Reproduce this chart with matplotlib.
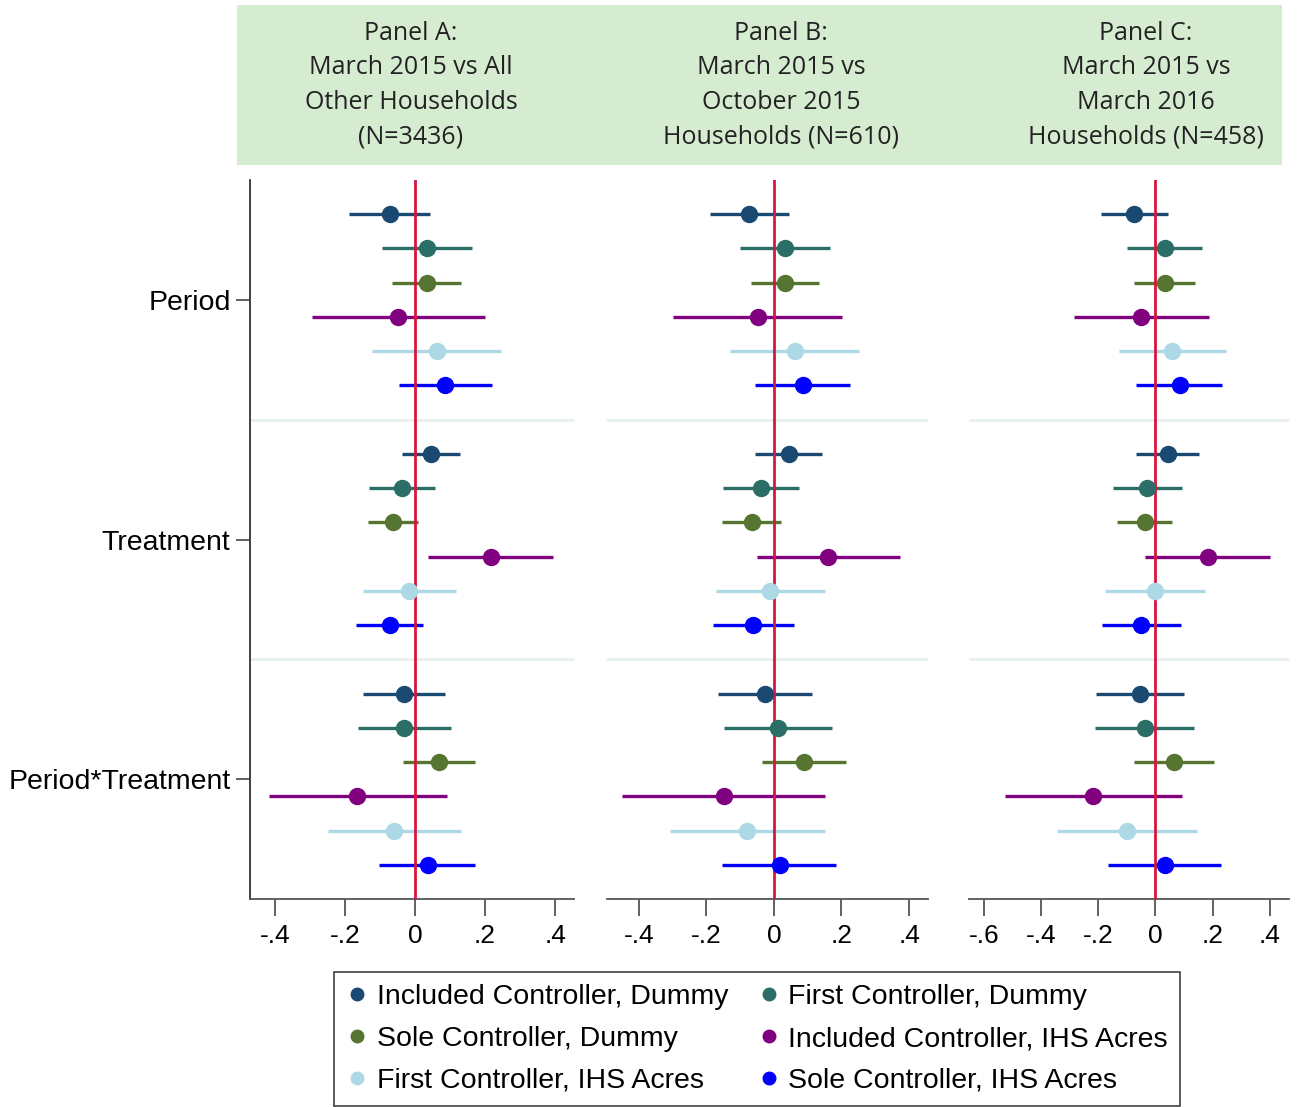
import numpy as np
import matplotlib
matplotlib.use("Agg")
import matplotlib.pyplot as plt
from matplotlib.lines import Line2D
from matplotlib.patches import Rectangle

plt.rcParams['font.family'] = ['Liberation Sans', 'DejaVu Sans']

# ---- data ----
terms = ["Period", "Treatment", "Period*Treatment"]
series = ["Included Controller, Dummy", "First Controller, Dummy",
          "Sole Controller, Dummy", "Included Controller, IHS Acres",
          "First Controller, IHS Acres", "Sole Controller, IHS Acres"]
colors = ["#1a4a72", "#2b6e67", "#557530", "#800080", "#add8e6", "#0000ff"]

headers = [["Panel A:", "March 2015 vs All", "Other Households", "(N=3436)"],
           ["Panel B:", "March 2015 vs", "October 2015", "Households (N=610)"],
           ["Panel C:", "March 2015 vs", "March 2016", "Households (N=458)"]]

# rows = series, cols = terms (Period, Treatment, Period*Treatment)
est_a = [[-0.071, 0.046, -0.031], [0.033, -0.036, -0.030], [0.033, -0.064, 0.069],
         [-0.048, 0.216, -0.165], [0.062, -0.017, -0.060], [0.087, -0.071, 0.036]]
lo_a = [[-0.187, -0.038, -0.149], [-0.095, -0.130, -0.164], [-0.065, -0.135, -0.033],
        [-0.295, 0.038, -0.416], [-0.124, -0.149, -0.249], [-0.046, -0.168, -0.102]]
hi_a = [[0.043, 0.128, 0.087], [0.163, 0.057, 0.102], [0.131, 0.008, 0.171],
        [0.200, 0.395, 0.090], [0.247, 0.117, 0.130], [0.219, 0.024, 0.171]]

est_b = [[-0.073, 0.044, -0.025], [0.034, -0.039, 0.013], [0.034, -0.066, 0.090],
         [-0.047, 0.161, -0.148], [0.061, -0.012, -0.079], [0.086, -0.061, 0.018]]
lo_b = [[-0.189, -0.056, -0.165], [-0.100, -0.152, -0.148], [-0.069, -0.153, -0.034],
        [-0.298, -0.051, -0.450], [-0.130, -0.172, -0.309], [-0.056, -0.179, -0.153]]
hi_b = [[0.044, 0.143, 0.114], [0.165, 0.074, 0.172], [0.134, 0.021, 0.212],
        [0.201, 0.372, 0.152], [0.251, 0.152, 0.152], [0.225, 0.059, 0.185]]

est_c = [[-0.075, 0.043, -0.054], [0.033, -0.028, -0.037], [0.033, -0.037, 0.065],
         [-0.049, 0.183, -0.218], [0.059, -0.002, -0.098], [0.085, -0.049, 0.033]]
lo_c = [[-0.192, -0.067, -0.209], [-0.099, -0.150, -0.212], [-0.075, -0.136, -0.075],
        [-0.286, -0.037, -0.527], [-0.127, -0.175, -0.344], [-0.067, -0.187, -0.166]]
hi_c = [[0.044, 0.151, 0.100], [0.163, 0.093, 0.134], [0.137, 0.058, 0.205],
        [0.187, 0.402, 0.093], [0.248, 0.172, 0.147], [0.234, 0.091, 0.229]]

xticks_ab = [-0.4, -0.2, 0, 0.2, 0.4]
xticks_c = [-0.6, -0.4, -0.2, 0, 0.2, 0.4]


def tick_label(v):
    if abs(v) < 1e-9:
        return "0"
    s = "%.1f" % v
    return s.replace("0.", ".")


W, H = 1298, 1107
fig = plt.figure(figsize=(W / 100, H / 100), dpi=100)


def px_axes(x0, x1, y0, y1):
    return fig.add_axes([x0 / W, 1 - y1 / H, (x1 - x0) / W, (y1 - y0) / H])


panels = [
    (px_axes(250, 574, 180, 899), est_a, lo_a, hi_a, (-0.471, 0.454), xticks_ab, 411),
    (px_axes(607, 928, 180, 899), est_b, lo_b, hi_b, (-0.494, 0.456), xticks_ab, 781),
    (px_axes(969, 1289, 180, 899), est_c, lo_c, hi_c, (-0.652, 0.467), xticks_c, 1146),
]

# green header band
fig.patches.append(Rectangle((237 / W, 1 - 165 / H), (1282 - 237) / W, 160 / H,
                             transform=fig.transFigure, facecolor="#d5ecd0",
                             edgecolor="none", zorder=0))

n = len(series)
for i, (ax, est, lo, hi, xl, xt, hx) in enumerate(panels):
    est = np.array(est)
    lo = np.array(lo)
    hi = np.array(hi)
    for k in range(n):
        y = np.arange(len(terms)) + (k - (n - 1) / 2) / (n + 1)
        ax.hlines(y, lo[k], hi[k], color=colors[k], lw=2.4, zorder=2)
        ax.plot(est[k], y, 'o', color=colors[k], ms=11.5, zorder=4)
    ax.axvline(0, color="#d6163c", lw=2, zorder=3)
    for b in [0.5, 1.5]:
        ax.axhline(b, color="#e8f0f0", lw=2, zorder=1)
    ax.set_ylim(len(terms) - 0.5, -0.5)
    ax.set_xlim(*xl)
    ax.set_xticks(xt)
    ax.set_xticklabels([tick_label(v) for v in xt], fontsize=19)
    ax.tick_params(axis='x', length=12, width=1.3, color="#555555", pad=6)
    for s in ["top", "right"]:
        ax.spines[s].set_visible(False)
    ax.spines["bottom"].set_color("#555555")
    ax.spines["bottom"].set_linewidth(1.3)
    if i == 0:
        ax.set_yticks(range(len(terms)))
        ax.set_yticklabels(terms, fontsize=20.5)
        ax.tick_params(axis='y', length=10, width=1.3, color="#555555", pad=4)
        ax.spines["left"].set_color("#333333")
        ax.spines["left"].set_linewidth(1.3)
    else:
        ax.set_yticks([])
        ax.spines["left"].set_visible(False)
    for j, line in enumerate(headers[i]):
        fig.text(hx / W, 1 - (33 + 34.7 * j) / H, line, ha="center", va="center",
                 fontsize=18, family=["Open Sans", "DejaVu Sans"], color="#222222")

# legend is filled row by row in the reference: reorder for matplotlib's column fill
order = [0, 2, 4, 1, 3, 5]
handles = [Line2D([], [], marker='o', ls='none', color=colors[k], ms=9) for k in order]
labels = [series[k] for k in order]
leg = fig.legend(handles, labels, loc="center", ncol=2,
                 bbox_to_anchor=(757 / W, 1 - 1039 / H), fontsize=20.5,
                 frameon=True, fancybox=False, edgecolor="#111111",
                 handletextpad=0.3, handlelength=0.8, columnspacing=1.0,
                 labelspacing=0.55, borderpad=0.42, borderaxespad=0)
leg.get_frame().set_linewidth(1.2)

fig.savefig("out.png", dpi=100)
